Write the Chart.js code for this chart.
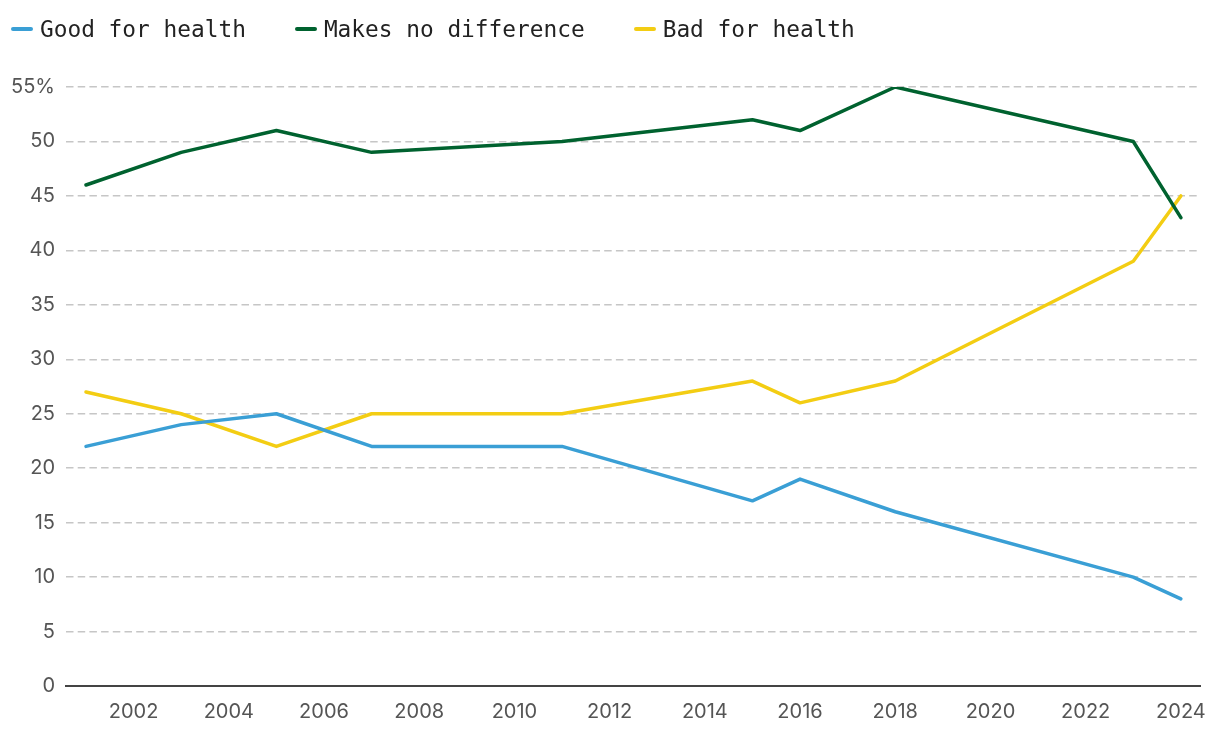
<!DOCTYPE html>
<html>
<head>
<meta charset="utf-8">
<script src="https://cdn.jsdelivr.net/npm/chart.js@4"></script>
<style>
  html, body { margin: 0; padding: 0; background: #fff; }
  #wrap { position: relative; width: 1220px; height: 736px; }
  #legend { position: absolute; left: 11px; top: 16px; display: flex; font-family: "DejaVu Sans Mono", monospace; font-size: 22.8px; color: #222; white-space: pre; z-index: 2; }
  .item { display: flex; align-items: center; }
  .sw { width: 22px; height: 3.5px; border-radius: 2px; margin-right: 7px; }
  canvas { position: absolute; left: 0; top: 0; }
</style>
</head>
<body>
<div id="wrap">
  <div id="legend"></div>
  <canvas id="c" width="1220" height="736"></canvas>
</div>
<script>
const years = [2001, 2003, 2005, 2007, 2011, 2015, 2016, 2018, 2023, 2024];
const goodForHealth = [22, 24, 25, 22, 22, 17, 19, 16, 10, 8];
const makesNoDifference = [46, 49, 51, 49, 50, 52, 51, 55, 50, 43];
const badForHealth = [27, 25, 22, 25, 25, 28, 26, 28, 39, 45];
const seriesNames = ["Good for health", "Makes no difference", "Bad for health"];
const seriesColors = ["#3a9fd5", "#00622f", "#f3cd13"];
const xTicks = [2002, 2004, 2006, 2008, 2010, 2012, 2014, 2016, 2018, 2020, 2022, 2024];
const yTicks = [0, 5, 10, 15, 20, 25, 30, 35, 40, 45, 50, 55];

const allSeries = [goodForHealth, makesNoDifference, badForHealth];

// HTML legend
const legendEl = document.getElementById('legend');
seriesNames.forEach((name, i) => {
  const it = document.createElement('div');
  it.className = 'item';
  it.style.marginRight = i < seriesNames.length - 1 ? '49px' : '0';
  const sw = document.createElement('span');
  sw.className = 'sw';
  sw.style.background = seriesColors[i];
  const tx = document.createElement('span');
  tx.textContent = name;
  it.appendChild(sw); it.appendChild(tx);
  legendEl.appendChild(it);
});

const datasets = allSeries.map((vals, i) => ({
  label: seriesNames[i],
  data: years.map((y, j) => ({ x: y, y: vals[j] })),
  borderColor: seriesColors[i],
  backgroundColor: seriesColors[i],
  borderWidth: 3.5,
  pointRadius: 0,
  tension: 0,
  borderCapStyle: 'round',
  borderJoinStyle: 'round'
}));

new Chart(document.getElementById('c'), {
  type: 'line',
  data: { datasets },
  options: {
    responsive: false,
    animation: false,
    layout: { padding: { top: 87, right: 18, bottom: 0, left: 0 } },
    plugins: { legend: { display: false }, tooltip: { enabled: false } },
    scales: {
      x: {
        type: 'linear',
        min: 2000.58,
        max: 2024.42,
        afterBuildTicks: (s) => { s.ticks = xTicks.map(v => ({ value: v })); },
        afterFit: (s) => { s.height = 50; },
        grid: { display: false, drawTicks: false },
        border: { display: true, color: '#444', width: 2 },
        ticks: {
          padding: 14,
          maxRotation: 0,
          autoSkip: false,
          color: '#555',
          font: { family: 'Inter', size: 20 },
          callback: (v) => String(v)
        }
      },
      y: {
        min: 0,
        max: 55,
        afterBuildTicks: (s) => { s.ticks = yTicks.map(v => ({ value: v })); },
        afterFit: (s) => { s.width = 66; },
        grid: { color: '#c6c6c6', lineWidth: 1.5, drawTicks: false },
        border: { display: false, dash: [7.5, 4.2] },
        ticks: {
          padding: 11,
          color: '#555',
          font: { family: 'Inter', size: 20 },
          callback: (v) => v === 55 ? '55%' : String(v)
        }
      }
    }
  }
});
</script>
</body>
</html>
